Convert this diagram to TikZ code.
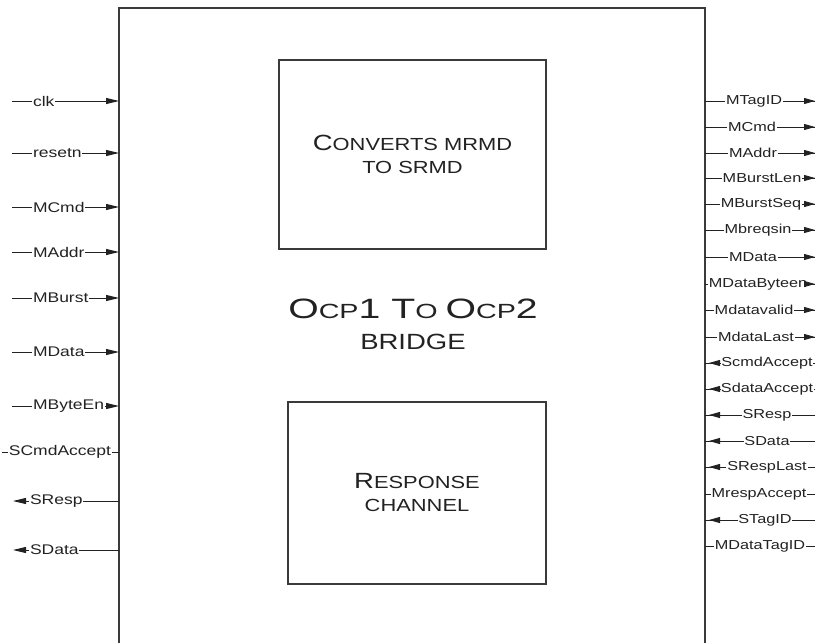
\documentclass[tikz,border=0pt]{standalone}
\usepackage{fontspec}
\setmainfont{Liberation Sans}[FakeStretch=1.25]
\newfontfamily\ttlfont{Liberation Sans}[FakeStretch=1.4]
\usetikzlibrary{arrows.meta}
\definecolor{ink}{HTML}{222222}
\definecolor{edge}{HTML}{3A3A3A}
\tikzset{
  sig/.style={font=\fontsize{14}{15}\selectfont, fill=white, inner xsep=0.8pt, inner ysep=0pt, text=ink},
  sigr/.style={sig, font=\fontsize{13}{14}\selectfont},
  wire/.style={line width=0.9pt, draw=ink},
  tipr/.style={wire, -{Triangle[length=13pt,width=6pt]}},
  tips/.style={wire, -{Triangle[length=11pt,width=6pt]}},
  blk/.style={draw=edge, line width=1.4pt, fill=white, text=ink, align=center,
              font=\fontsize{17.5}{23}\selectfont},
  ttl/.style={text=ink, inner sep=0pt, anchor=base}
}
\newcommand{\capA}[1]{{\fontsize{22}{23}\selectfont #1}}
\newcommand{\tbig}[1]{{\fontsize{28}{30}\selectfont #1}}
\begin{document}
\begin{tikzpicture}[x=1pt,y=-1pt]
\useasboundingbox (0,0) rectangle (819,643);
\fill[white] (0,0) rectangle (819,643);
% main box
\coordinate (mtl) at (119,8);
\coordinate (mtr) at (705,8);
\coordinate (mbl) at (119,643);
\coordinate (mbr) at (705,643);
\draw[draw=edge, line width=1.8pt] (mbl) -- (mtl) -- (mtr) -- (mbr);
% inner blocks
\node[blk, minimum width=267pt, minimum height=189pt] (conv) at (412.5,154.5)
  {\capA{C}ONVERTS MRMD\\TO SRMD};
\node[blk, minimum width=258pt, minimum height=182pt] (resp) at (417,493)
  {\capA{R}ESPONSE\\CHANNEL};
\node[ttl, font=\ttlfont\fontsize{20.5}{30}\selectfont] (title) at (413,318)
  {\tbig{O}CP\tbig{1 T}O \tbig{O}CP\tbig{2}};
\node[ttl, font=\fontsize{22}{30}\selectfont] (bridge) at (413,349) {BRIDGE};
% left inputs
\foreach \y/\t [count=\i] in {101/clk,153/resetn,207/MCmd,252/MAddr,298/MBurst,352/MData,406/MByteEn}{
  \coordinate (la\i) at (12,\y);
  \coordinate (lb\i) at (119,\y);
  \draw[tipr] (la\i) -- (lb\i);
  \node[sig, anchor=west] (ln\i) at (32,\y) {\t};
}
% left none
\coordinate (lc1) at (2,452);
\coordinate (ld1) at (119,452);
\draw[wire] (lc1) -- (ld1);
\node[sig] (lsca) at (60,452) {SCmdAccept};
% left outputs
\foreach \y/\t [count=\i] in {501/SResp,550/SData}{
  \coordinate (le\i) at (119,\y);
  \coordinate (lf\i) at (13,\y);
  \draw[tipr] (le\i) -- (lf\i);
  \node[sig, anchor=west] (lo\i) at (29,\y) {\t};
}
% right outputs
\foreach \y/\t/\c [count=\i] in {101/MTagID/754,127/MCmd/752,153/MAddr/753,178/MBurstLen/762,204/MBurstSeq/761,230/Mbreqsin/758,257/MData/753,284/MDataByteen/758,310/Mdatavalid/754,337/MdataLast/756}{
  \coordinate (ra\i) at (705,\y);
  \coordinate (rb\i) at (815,\y);
  \draw[wire] (ra\i) -- (rb\i);
  \node[sigr] (rn\i) at (\c,\y) {\t};
  \draw[tips] ([xshift=-11pt]rb\i) -- (rb\i);
}
% right inputs
\foreach \y/\t/\c [count=\i] in {363/ScmdAccept/767,389/SdataAccept/767,415/SResp/767,441/SData/767,467/SRespLast/767,520/STagID/765}{
  \coordinate (rc\i) at (815,\y);
  \coordinate (rd\i) at (705,\y);
  \draw[wire] (rc\i) -- (rd\i);
  \node[sigr] (ri\i) at (\c,\y) {\t};
  \draw[tips, shorten >=4pt] ([xshift=15pt]rd\i) -- (rd\i);
}
% right none
\foreach \y/\t/\c [count=\i] in {494/MrespAccept/759,546/MDataTagID/760}{
  \coordinate (re\i) at (705,\y);
  \coordinate (rf\i) at (815,\y);
  \draw[wire] (re\i) -- (rf\i);
  \node[sigr] (rx\i) at (\c,\y) {\t};
}
\end{tikzpicture}
\end{document}
